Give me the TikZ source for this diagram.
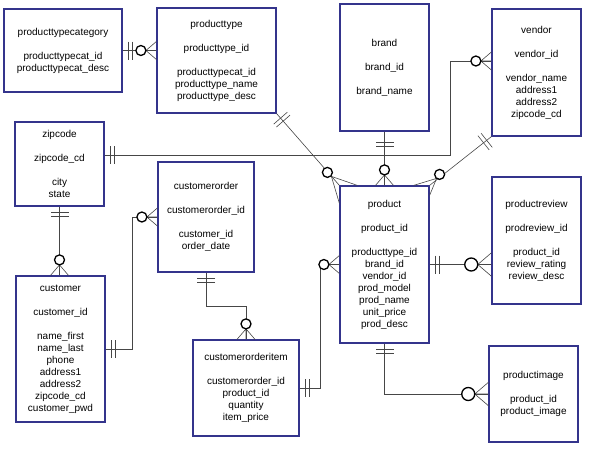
\documentclass[tikz,border=0pt]{standalone}
\usepackage{fontspec}
\setmainfont{Liberation Sans}
\usepackage{tikz}
\usetikzlibrary{calc}

\definecolor{boxblue}{RGB}{52,52,140}
\definecolor{linkgray}{RGB}{70,70,70}

\tikzset{
	entity/.style={draw=boxblue, line width=1.2pt, fill=white, align=center, inner sep=0pt, font=\fontsize{10}{12}\selectfont},
	link/.style={draw=linkgray, line width=0.6pt},
	ring/.style={draw=black, line width=1.3pt, fill=white},
	one/.pic={
		\draw[link] (6,-9) -- (6,9) (10,-9) -- (10,9);
	},
	zmany/.pic={
		\draw[link] (10.5,0) -- (0,-9) (10.5,0) -- (0,9) (10.5,0) -- (0,0);
		\draw[ring] (15.5,0) circle (5);
	},
}

\begin{document}
\begin{tikzpicture}[x=1pt, y=-1pt]
	\useasboundingbox (0,0) rectangle (600,450);
	
	\node[entity, minimum width=118pt, minimum height=83pt] (ptcat) at (63,50.5) {producttypecategory\\[12pt]producttypecat\_id\\producttypecat\_desc};
	\node[entity, minimum width=119pt, minimum height=105pt] (ptype) at (216.5,60.5) {producttype\\[12pt]producttype\_id\\[12pt]producttypecat\_id\\producttype\_name\\producttype\_desc};
	\node[entity, minimum width=89pt, minimum height=127pt] (brand) at (384.5,67.5) {brand\\[12pt]brand\_id\\[12pt]brand\_name};
	\node[entity, minimum width=89pt, minimum height=127pt] (vendor) at (536.5,72.5) {vendor\\[12pt]vendor\_id\\[12pt]vendor\_name\\address1\\address2\\zipcode\_cd};
	\node[entity, minimum width=89pt, minimum height=84pt] (zipcode) at (59.5,164) {zipcode\\[12pt]zipcode\_cd\\[12pt]city\\state};
	\node[entity, minimum width=96pt, minimum height=110pt] (corder) at (206,217) {customerorder\\[12pt]customerorder\_id\\[12pt]customer\_id\\order\_date};
	\node[entity, minimum width=89pt, minimum height=146pt] (customer) at (60.5,349) {customer\\[12pt]customer\_id\\[12pt]name\_first\\name\_last\\phone\\address1\\address2\\zipcode\_cd\\customer\_pwd};
	\node[entity, minimum width=106pt, minimum height=96pt] (coitem) at (246,388) {customerorderitem\\[12pt]customerorder\_id\\product\_id\\quantity\\item\_price};
	\node[entity, minimum width=89pt, minimum height=157pt] (product) at (384.5,264.5) {product\\[12pt]product\_id\\[12pt]producttype\_id\\brand\_id\\vendor\_id\\prod\_model\\prod\_name\\unit\_price\\prod\_desc};
	\node[entity, minimum width=89pt, minimum height=127pt] (preview) at (536.5,240.5) {productreview\\[12pt]prodreview\_id\\[12pt]product\_id\\review\_rating\\review\_desc};
	\node[entity, minimum width=89pt, minimum height=96pt] (pimage) at (533.5,394) {productimage\\[12pt]product\_id\\product\_image};
	
	% bend points
	\coordinate (zipv) at ($(zipcode.east)+(0,-9)$);
	\coordinate (vbend) at (450,61);
	\coordinate (cbend) at (132,217);
	\coordinate (obend) at (0,306);
	\coordinate (pbend) at (320,0);
	
	% producttypecategory - producttype
	\draw[link] (ptcat.east) -- (ptcat.east -| ptype.west);
	\pic at (ptcat.east) {one};
	\pic[rotate=180] at (ptcat.east -| ptype.west) {zmany};
	
	% producttype - product
	\draw[link] (ptype.south east) -- (product.north west);
	\pic[rotate=-48.8] at (ptype.south east) {one};
	\draw[link] ($(product.north west)+(-8,-9)$) -- ($(product.north west)+(18,0)$) ($(product.north west)+(-8,-9)$) -- ($(product.north west)+(0,18)$);
	\draw[ring] ($(product.north west)+(-12,-13)$) circle (5);
	
	% zipcode - vendor
	\draw[link] (zipv) -| (vbend) -- (vbend -| vendor.west);
	\pic at (zipv) {one};
	\pic[rotate=180] at (vbend -| vendor.west) {zmany};
	
	% brand - product
	\draw[link] (brand.south) -- (brand.south |- product.north);
	\pic[rotate=-90] at ($(brand.south)+(0,5)$) {one};
	\pic[rotate=90] at (brand.south |- product.north) {zmany};
	
	% vendor - product
	\draw[link] (vendor.south west) -- (product.north east);
	\pic[rotate=-141.6] at (vendor.south west) {one};
	\draw[link] ($(product.north east)+(7,-7)$) -- ($(product.north east)+(-16,0)$) ($(product.north east)+(7,-7)$) -- ($(product.north east)+(0,10)$);
	\draw[ring] ($(product.north east)+(10,-11)$) circle (5);
	
	% zipcode - customer
	\draw[link] (zipcode.south) -- (zipcode.south |- customer.north);
	\pic[rotate=-90] at (zipcode.south) {one};
	\pic[rotate=90] at (zipcode.south |- customer.north) {zmany};
	
	% customer - customerorder
	\draw[link] (customer.east) -| (cbend) -- (corder.west);
	\pic at (customer.east) {one};
	\pic[rotate=180] at (corder.west) {zmany};
	
	% customerorder - customerorderitem
	\draw[link] (corder.south) -- (corder.south |- obend) -| (coitem.north);
	\pic[rotate=-90] at (corder.south) {one};
	\pic[rotate=90] at (coitem.north) {zmany};
	
	% customerorderitem - product
	\draw[link] (coitem.east) -- (coitem.east -| pbend) |- (product.west);
	\pic at (coitem.east) {one};
	\pic[rotate=180] at (product.west) {zmany};
	
	% product - productreview
	\draw[link] (product.east) -- (product.east -| preview.west);
	\pic at (product.east) {one};
	\pic[rotate=180, scale=1.3] at (product.east -| preview.west) {zmany};
	
	% product - productimage
	\draw[link] (product.south) |- (pimage.west);
	\pic[rotate=-90] at (product.south) {one};
	\pic[rotate=180, scale=1.3] at (pimage.west) {zmany};
\end{tikzpicture}
\end{document}
